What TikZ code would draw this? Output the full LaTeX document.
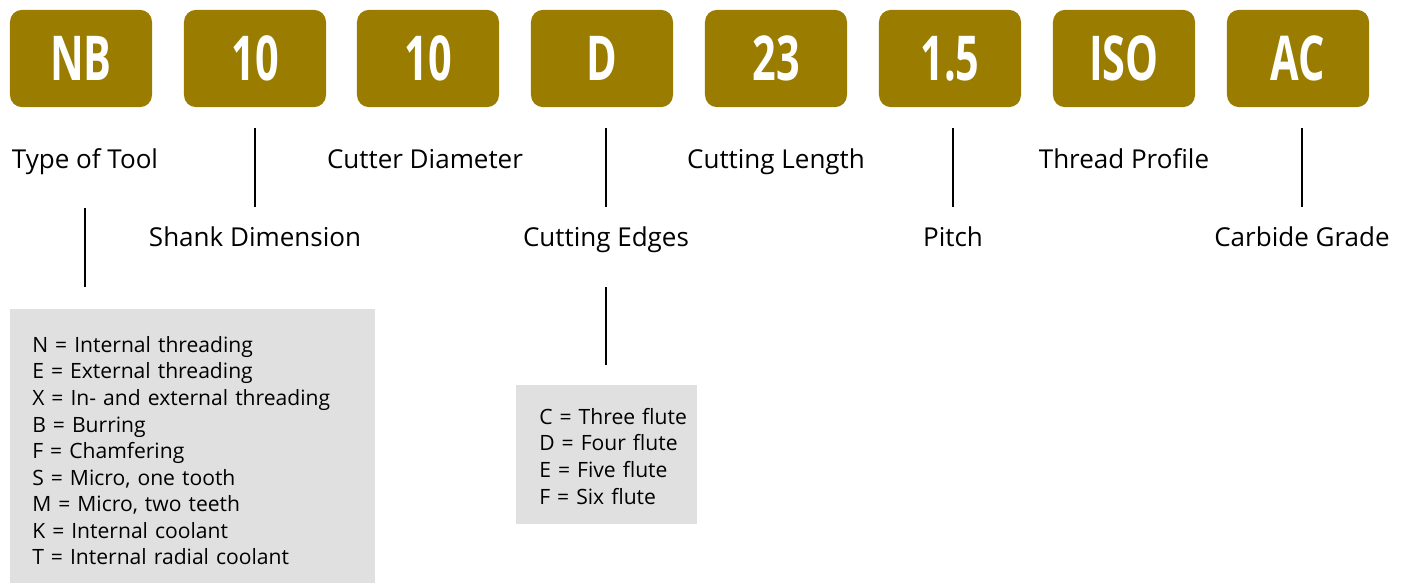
\documentclass[tikz,border=0pt]{standalone}
\usepackage{fontspec}
\setmainfont{Open Sans}
\newfontfamily\codefont[FakeStretch=0.67]{Open Sans}
\usepackage{tikz}
\usetikzlibrary{positioning}
\definecolor{codegold}{RGB}{154,125,0}
\definecolor{keygray}{RGB}{224,224,224}

\begin{document}
\begin{tikzpicture}[x=0.025cm, y=-0.025cm,
				   code/.style={fill=codegold, rounded corners=0.3cm, inner sep=0pt, minimum width=3.55cm, minimum height=2.43cm, text=white, font=\codefont\bfseries\fontsize{44}{44}\selectfont},
				   label/.style={anchor=base, inner sep=0pt, text height=0.45cm, text depth=0.15cm, font=\fontsize{18.5}{18.5}\selectfont},
				   key/.style={fill=keygray, anchor=north west, inner sep=0pt},
				   list/.style={anchor=north west, align=left, inner sep=0pt, text width=8cm, font=\fontsize{15}{18.9}\selectfont},
				   tick/.style={black, line width=1.2pt}]
\useasboundingbox (0,0) rectangle (1408,583);

\node[code] (nb) at (81,58.5) {NB};
\node[code] (shank) at (255,58.5) {10};
\node[code] (cutter) at (428,58.5) {10};
\node[code] (edges) at (602,58.5) {D};
\node[code] (length) at (776,58.5) {23};
\node[code] (pitch) at (950,58.5) {1.5};
\node[code] (profile) at (1124,58.5) {ISO};
\node[code] (grade) at (1298,58.5) {AC};

\node[label] (typeL) at (85,169) {Type of Tool};
\node[label] (cutterL) at (425,169) {Cutter Diameter};
\node[label] (lengthL) at (776,169) {Cutting Length};
\node[label] (profileL) at (1124,169) {Thread Profile};
\node[label] (shankL) at (255,247) {Shank Dimension};
\node[label] (edgesL) at (606,247) {Cutting Edges};
\node[label] (pitchL) at (953,247) {Pitch};
\node[label] (gradeL) at (1302,247) {Carbide Grade};

\node[key, minimum width=9.125cm, minimum height=6.85cm] (typeKey) at (10,309) {};
\node[key, minimum width=4.525cm, minimum height=3.475cm] (edgesKey) at (516,385) {};
\node[list] (typeList) at (32,336) {%
N = Internal threading\\
E = External threading\\
X = In- and external threading\\
B = Burring\\
F = Chamfering\\
S = Micro, one tooth\\
M = Micro, two teeth\\
K = Internal coolant\\
T = Internal radial coolant};
\node[list] (edgesList) at (539,408) {%
C = Three flute\\
D = Four flute\\
E = Five flute\\
F = Six flute};

\draw[tick, shorten <=0.525cm, shorten >=0.55cm] (shank.south) -- (shankL.north -| shank.south);
\draw[tick, shorten <=0.525cm, shorten >=0.55cm] (edges.south -| edgesL.north) -- (edgesL.north);
\draw[tick, shorten <=0.525cm, shorten >=0.55cm] (pitch.south -| pitchL.north) -- (pitchL.north);
\draw[tick, shorten <=0.525cm, shorten >=0.55cm] (grade.south -| gradeL.north) -- (gradeL.north);
\draw[tick, shorten <=0.825cm, shorten >=0.55cm] (typeL.south) -- (typeKey.north -| typeL.south);
\draw[tick, shorten <=0.85cm, shorten >=0.5cm] (edgesL.south) -- (edgesKey.north -| edgesL.south);
\end{tikzpicture}
\end{document}
